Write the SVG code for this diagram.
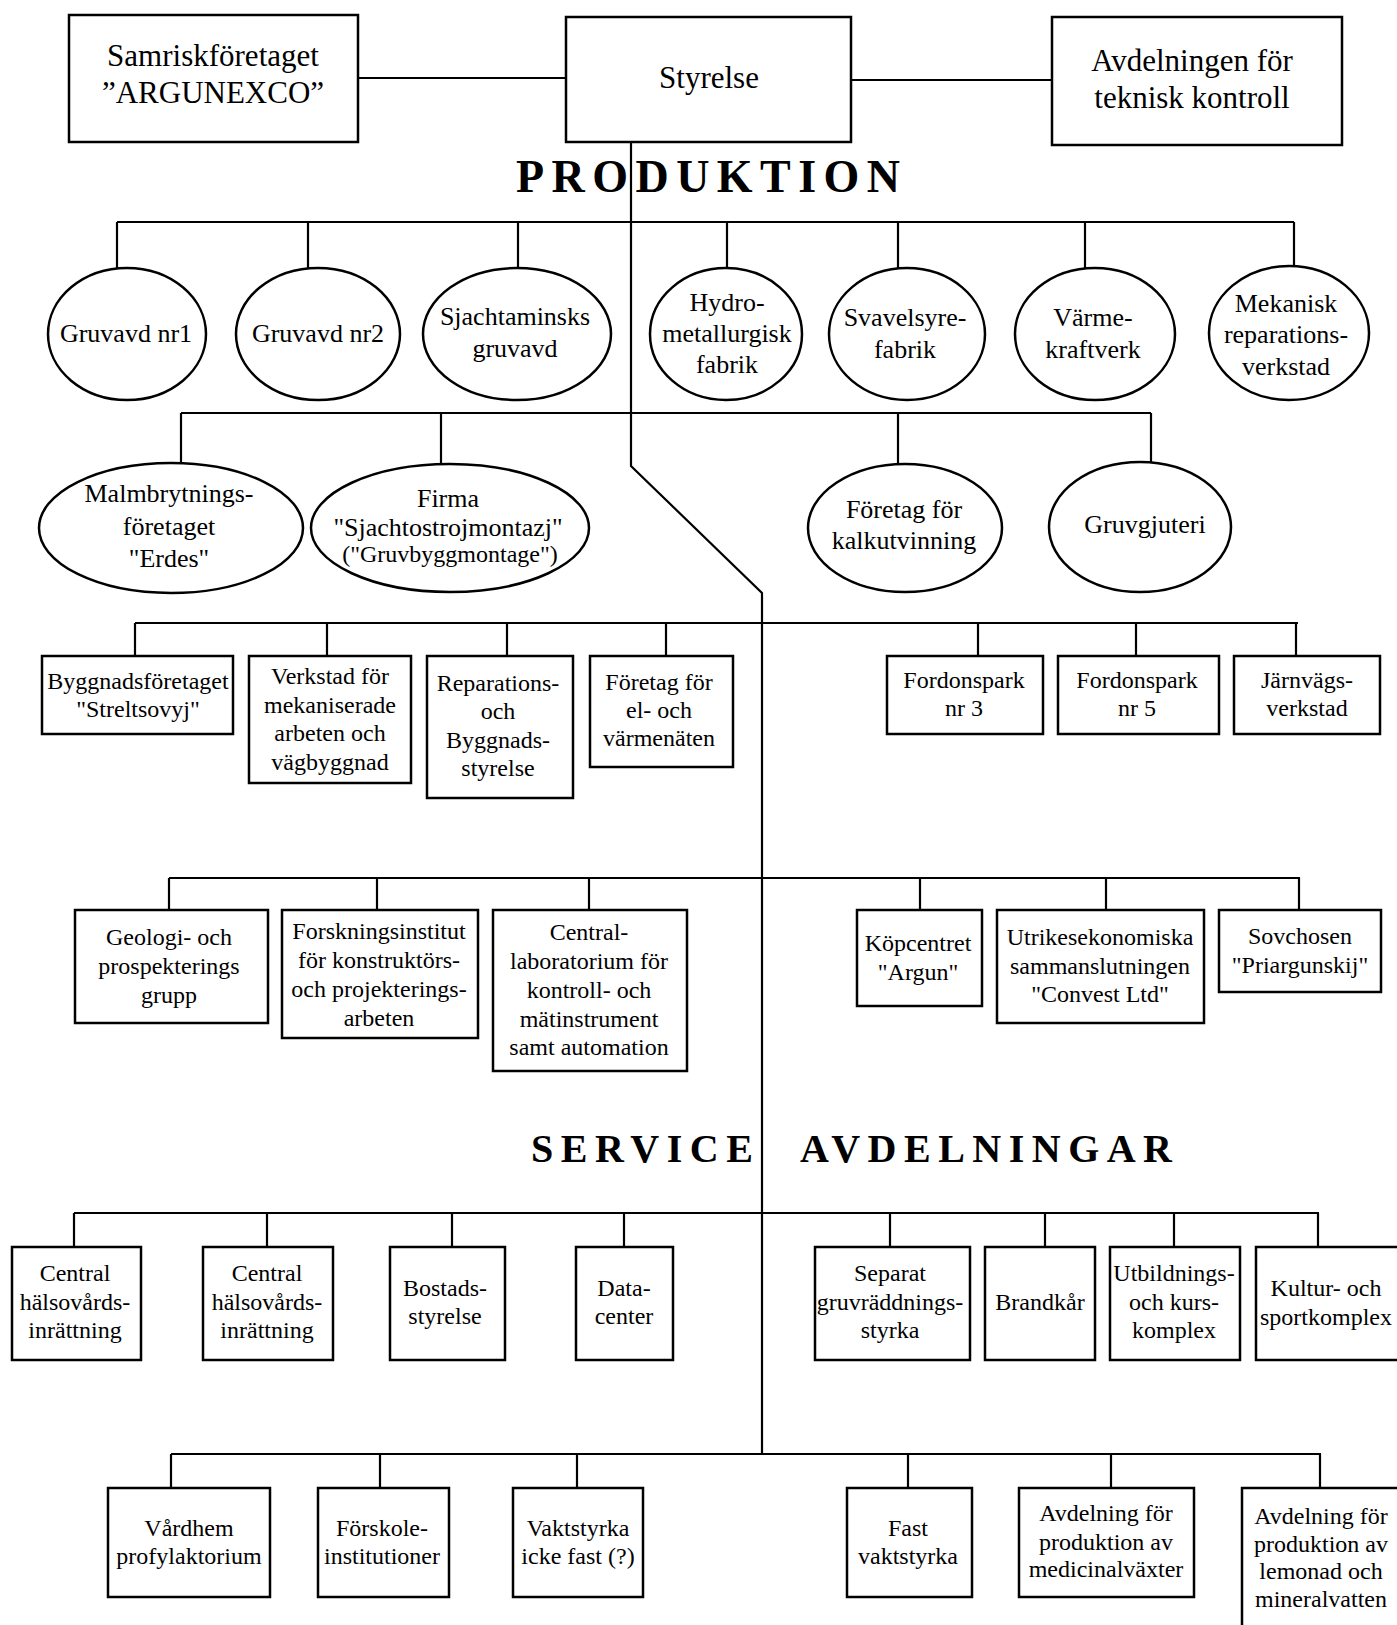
<svg xmlns="http://www.w3.org/2000/svg" width="1397" height="1625" viewBox="0 0 1397 1625">
<style>
.b{fill:#fff;stroke:#000;stroke-width:2.5}
.c{fill:none;stroke:#000;stroke-width:2.2}
.t{font-family:"Liberation Serif","Times New Roman",serif;font-size:24px;text-anchor:middle;fill:#000}
.e{font-size:26px}
.top{font-size:31px}
.h{font-family:"Liberation Serif","Times New Roman",serif;font-weight:bold;fill:#000}
</style>
<rect width="1397" height="1625" fill="#fff"/>
<g id="connectors" class="c">
<path d="M358 78H566M851 80H1052"/>
<path d="M631 142V466L762 593V1454"/>
<path d="M117 222H1294M117 222V268M308 222V268M518 222V268M727 222V268M898 222V268M1085 222V268M1294 222V268"/>
<path d="M181 413H1151M181 413V463M441 413V465M898 413V465M1151 413V463"/>
<path d="M135 623H1298M135 623V656M327 623V656M507 623V656M666 623V656M978 623V656M1136 623V656M1296 623V656"/>
<path d="M169 878H1300M169 878V910M377 878V910M589 878V910M920 878V910M1106 878V910M1299 878V910"/>
<path d="M74 1213H1319M74 1213V1247M267 1213V1247M452 1213V1247M624 1213V1247M890 1213V1247M1045 1213V1247M1174 1213V1247M1318 1213V1247"/>
<path d="M171 1454H1321M171 1454V1488M380 1454V1488M577 1454V1488M908 1454V1488M1111 1454V1488M1320 1454V1488"/>
</g>
<text class="h" x="516" y="192" font-size="46" textLength="384" lengthAdjust="spacing">PRODUKTION</text>
<text class="h" x="531" y="1162" font-size="40" textLength="222" lengthAdjust="spacing">SERVICE</text>
<text class="h" x="800" y="1162" font-size="40" textLength="372" lengthAdjust="spacing">AVDELNINGAR</text>

<g id="samrisk"><rect class="b" x="69" y="15" width="289" height="127"/><text class="t top" x="213" y="66">Samriskföretaget</text><text class="t top" x="213" y="103">”ARGUNEXCO”</text></g>
<g id="styrelse"><rect class="b" x="566" y="17" width="285" height="125"/><text class="t top" x="709" y="88">Styrelse</text></g>
<g id="teknisk"><rect class="b" x="1052" y="17" width="290" height="128"/><text class="t top" x="1192" y="71">Avdelningen för</text><text class="t top" x="1192" y="108">teknisk kontroll</text></g>

<g id="gruvavd1"><ellipse class="b" cx="127" cy="334" rx="79" ry="66"/><text class="t e" x="126" y="342">Gruvavd nr1</text></g>
<g id="gruvavd2"><ellipse class="b" cx="318" cy="334" rx="82" ry="66"/><text class="t e" x="318" y="342">Gruvavd nr2</text></g>
<g id="sjachtaminsks"><ellipse class="b" cx="517" cy="334" rx="94" ry="66"/><text class="t e" x="515" y="325">Sjachtaminsks</text><text class="t e" x="515" y="357">gruvavd</text></g>
<g id="hydro"><ellipse class="b" cx="726" cy="334" rx="76" ry="66"/><text class="t e" x="727" y="311">Hydro-</text><text class="t e" x="727" y="342">metallurgisk</text><text class="t e" x="727" y="373">fabrik</text></g>
<g id="svavelsyre"><ellipse class="b" cx="907" cy="334" rx="78" ry="66"/><text class="t e" x="905" y="326">Svavelsyre-</text><text class="t e" x="905" y="358">fabrik</text></g>
<g id="varme"><ellipse class="b" cx="1095" cy="334" rx="80" ry="66"/><text class="t e" x="1093" y="326">Värme-</text><text class="t e" x="1093" y="358">kraftverk</text></g>
<g id="mekanisk"><ellipse class="b" cx="1289" cy="333" rx="80" ry="67"/><text class="t e" x="1286" y="312">Mekanisk</text><text class="t e" x="1286" y="343">reparations-</text><text class="t e" x="1286" y="375">verkstad</text></g>

<g id="malmbrytning"><ellipse class="b" cx="171" cy="528" rx="132" ry="65"/><text class="t e" x="169" y="502">Malmbrytnings-</text><text class="t e" x="169" y="535">företaget</text><text class="t e" x="169" y="567">"Erdes"</text></g>
<g id="firma"><ellipse class="b" cx="450" cy="528" rx="139" ry="64"/><text class="t e" x="448" y="507">Firma</text><text class="t e" x="448" y="536">"Sjachtostrojmontazj"</text><text class="t" x="450" y="562" font-size="19">("Gruvbyggmontage")</text></g>
<g id="kalk"><ellipse class="b" cx="905" cy="528" rx="97" ry="64"/><text class="t e" x="904" y="518">Företag för</text><text class="t e" x="904" y="549">kalkutvinning</text></g>
<g id="gruvgjuteri"><ellipse class="b" cx="1140" cy="527" rx="91" ry="65"/><text class="t e" x="1145" y="533">Gruvgjuteri</text></g>

<g id="streltsovyj"><rect class="b" x="42" y="656" width="191" height="78"/><text class="t" x="138" y="689">Byggnadsföretaget</text><text class="t" x="138" y="717">"Streltsovyj"</text></g>
<g id="verkstad-mek"><rect class="b" x="249" y="656" width="162" height="127"/><text class="t" x="330" y="684">Verkstad för</text><text class="t" x="330" y="713">mekaniserade</text><text class="t" x="330" y="741">arbeten och</text><text class="t" x="330" y="770">vägbyggnad</text></g>
<g id="reparations"><rect class="b" x="427" y="656" width="146" height="142"/><text class="t" x="498" y="691">Reparations-</text><text class="t" x="498" y="719">och</text><text class="t" x="498" y="748">Byggnads-</text><text class="t" x="498" y="776">styrelse</text></g>
<g id="el-varme"><rect class="b" x="590" y="656" width="143" height="111"/><text class="t" x="659" y="690">Företag för</text><text class="t" x="659" y="718">el- och</text><text class="t" x="659" y="746">värmenäten</text></g>
<g id="fordon3"><rect class="b" x="887" y="656" width="156" height="78"/><text class="t" x="964" y="688">Fordonspark</text><text class="t" x="964" y="716">nr 3</text></g>
<g id="fordon5"><rect class="b" x="1058" y="656" width="161" height="78"/><text class="t" x="1137" y="688">Fordonspark</text><text class="t" x="1137" y="716">nr 5</text></g>
<g id="jarnvag"><rect class="b" x="1234" y="656" width="146" height="78"/><text class="t" x="1307" y="688">Järnvägs-</text><text class="t" x="1307" y="716">verkstad</text></g>

<g id="geologi"><rect class="b" x="75" y="910" width="193" height="113"/><text class="t" x="169" y="945">Geologi- och</text><text class="t" x="169" y="974">prospekterings</text><text class="t" x="169" y="1003">grupp</text></g>
<g id="forskning"><rect class="b" x="282" y="910" width="196" height="128"/><text class="t" x="379" y="939">Forskningsinstitut</text><text class="t" x="379" y="968">för konstruktörs-</text><text class="t" x="379" y="997">och projekterings-</text><text class="t" x="379" y="1026">arbeten</text></g>
<g id="centrallab"><rect class="b" x="493" y="910" width="194" height="161"/><text class="t" x="589" y="940">Central-</text><text class="t" x="589" y="969">laboratorium för</text><text class="t" x="589" y="998">kontroll- och</text><text class="t" x="589" y="1027">mätinstrument</text><text class="t" x="589" y="1055">samt automation</text></g>
<g id="kopcentret"><rect class="b" x="857" y="910" width="125" height="96"/><text class="t" x="918" y="951">Köpcentret</text><text class="t" x="918" y="980">"Argun"</text></g>
<g id="convest"><rect class="b" x="997" y="910" width="207" height="113"/><text class="t" x="1100" y="945">Utrikesekonomiska</text><text class="t" x="1100" y="974">sammanslutningen</text><text class="t" x="1100" y="1002">"Convest Ltd"</text></g>
<g id="sovchosen"><rect class="b" x="1219" y="910" width="162" height="82"/><text class="t" x="1300" y="944">Sovchosen</text><text class="t" x="1300" y="973">"Priargunskij"</text></g>

<g id="halsovard1"><rect class="b" x="12" y="1247" width="129" height="113"/><text class="t" x="75" y="1281">Central</text><text class="t" x="75" y="1310">hälsovårds-</text><text class="t" x="75" y="1338">inrättning</text></g>
<g id="halsovard2"><rect class="b" x="203" y="1247" width="130" height="113"/><text class="t" x="267" y="1281">Central</text><text class="t" x="267" y="1310">hälsovårds-</text><text class="t" x="267" y="1338">inrättning</text></g>
<g id="bostads"><rect class="b" x="390" y="1247" width="115" height="113"/><text class="t" x="445" y="1296">Bostads-</text><text class="t" x="445" y="1324">styrelse</text></g>
<g id="datacenter"><rect class="b" x="576" y="1247" width="97" height="113"/><text class="t" x="624" y="1296">Data-</text><text class="t" x="624" y="1324">center</text></g>
<g id="gruvraddning"><rect class="b" x="815" y="1247" width="155" height="113"/><text class="t" x="890" y="1281">Separat</text><text class="t" x="890" y="1310">gruvräddnings-</text><text class="t" x="890" y="1338">styrka</text></g>
<g id="brandkar"><rect class="b" x="985" y="1247" width="110" height="113"/><text class="t" x="1040" y="1310">Brandkår</text></g>
<g id="utbildning"><rect class="b" x="1110" y="1247" width="130" height="113"/><text class="t" x="1174" y="1281">Utbildnings-</text><text class="t" x="1174" y="1310">och kurs-</text><text class="t" x="1174" y="1338">komplex</text></g>
<g id="kultur"><rect class="b" x="1256" y="1247" width="150" height="113"/><text class="t" x="1326" y="1296">Kultur- och</text><text class="t" x="1326" y="1325">sportkomplex</text></g>

<g id="vardhem"><rect class="b" x="108" y="1488" width="162" height="109"/><text class="t" x="189" y="1536">Vårdhem</text><text class="t" x="189" y="1564">profylaktorium</text></g>
<g id="forskole"><rect class="b" x="318" y="1488" width="131" height="109"/><text class="t" x="382" y="1536">Förskole-</text><text class="t" x="382" y="1564">institutioner</text></g>
<g id="vaktstyrka-icke"><rect class="b" x="513" y="1488" width="130" height="109"/><text class="t" x="578" y="1536">Vaktstyrka</text><text class="t" x="578" y="1564">icke fast (?)</text></g>
<g id="fast-vakt"><rect class="b" x="847" y="1488" width="125" height="109"/><text class="t" x="908" y="1536">Fast</text><text class="t" x="908" y="1564">vaktstyrka</text></g>
<g id="medicinal"><rect class="b" x="1019" y="1488" width="175" height="109"/><text class="t" x="1106" y="1521">Avdelning för</text><text class="t" x="1106" y="1550">produktion av</text><text class="t" x="1106" y="1577">medicinalväxter</text></g>
<g id="lemonad"><rect class="b" x="1242" y="1488" width="170" height="160"/><text class="t" x="1321" y="1524">Avdelning för</text><text class="t" x="1321" y="1552">produktion av</text><text class="t" x="1321" y="1579">lemonad och</text><text class="t" x="1321" y="1607">mineralvatten</text></g>
</svg>
